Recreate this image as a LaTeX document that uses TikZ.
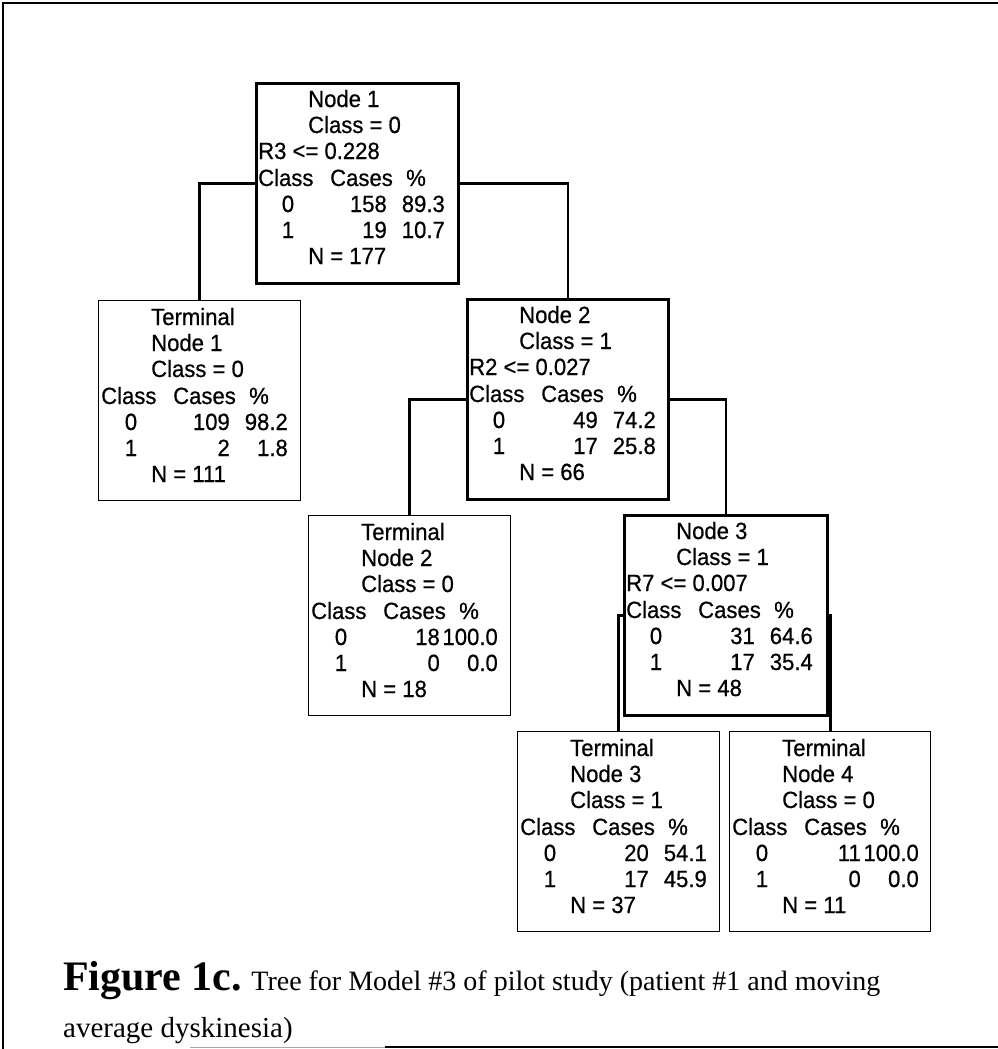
\documentclass[tikz,border=0pt]{standalone}
\usepackage{fontspec}
\setmainfont{Liberation Serif}
\newfontfamily\arialf[FakeStretch=0.94,FakeBold=0.6]{Liberation Sans}
\usetikzlibrary{calc}
\tikzset{
  splitbox/.style={draw, line width=2.8pt, anchor=north west, inner sep=0pt, minimum width=#1, minimum height=200pt},
  termbox/.style={draw, line width=1.4pt, anchor=north west, inner sep=0pt, minimum width=#1, minimum height=200pt},
  txt/.style={inner sep=0pt, font=\arialf\fontsize{23.5}{25}\selectfont},
  conn/.style={line width=2.8pt, line cap=rect},
  frame/.style={line width=2pt},
  captxt/.style={anchor=base west, inner sep=0pt, font=\fontsize{28}{30}\selectfont},
}
\newcommand\tabrows[6]{%
  \node[txt,anchor=base west] (#1-h1) at ($(#1.north west)+(3,104)$) {Class};
  \node[txt,anchor=base west] (#1-h2) at ($(#1.north west)+(75,104)$) {Cases};
  \node[txt,anchor=base west] (#1-h3) at ($(#1.north west)+(151,104)$) {\%};
  \node[txt,anchor=base] (#1-a1) at ($(#1.north west)+(33,130)$) {0};
  \node[txt,anchor=base east] (#1-a2) at ($(#1.north west)+(132,130)$) {#2};
  \node[txt,anchor=base east] (#1-a3) at ($(#1.north west)+(190,130)$) {#3};
  \node[txt,anchor=base] (#1-b1) at ($(#1.north west)+(33,156)$) {1};
  \node[txt,anchor=base east] (#1-b2) at ($(#1.north west)+(132,156)$) {#4};
  \node[txt,anchor=base east] (#1-b3) at ($(#1.north west)+(190,156)$) {#5};
  \node[txt,anchor=base west] (#1-n) at ($(#1.north west)+(53,182)$) {N = #6};
}
\newcommand\splittext[4]{% node, title, class, rule
  \node[txt,anchor=base west] (#1-t1) at ($(#1.north west)+(53,25)$) {#2};
  \node[txt,anchor=base west] (#1-t2) at ($(#1.north west)+(53,51)$) {Class = #3};
  \node[txt,anchor=base west] (#1-t3) at ($(#1.north west)+(3,77)$) {#4};
}
\newcommand\termtext[3]{% node, title, class
  \node[txt,anchor=base west] (#1-t1) at ($(#1.north west)+(53,25)$) {Terminal};
  \node[txt,anchor=base west] (#1-t2) at ($(#1.north west)+(53,51)$) {#2};
  \node[txt,anchor=base west] (#1-t3) at ($(#1.north west)+(53,77)$) {Class = #3};
}
\begin{document}
\begin{tikzpicture}[x=1pt,y=-1pt]
\useasboundingbox (0,0) rectangle (998,1049);
% frame
\coordinate (ftr) at (998,3);
\coordinate (ftl) at (3,3);
\coordinate (fbl) at (3,1049);
\coordinate (fb1) at (190,1047);
\coordinate (fb2) at (385,1047);
\coordinate (fbr) at (998,1047);
\draw[frame] (ftr) -- (ftl) -- (fbl);
\draw[line width=1pt, gray!70] (fb1) -- (fb2);
\draw[frame] (fb2) -- (fbr);
% boxes
\node[splitbox=202pt] (n1) at (255,82) {};
\node[termbox=202pt] (t1) at (98,300) {};
\node[splitbox=201pt] (n2) at (466,298) {};
\node[termbox=202pt] (t2) at (308,515) {};
\node[splitbox=203pt] (n3) at (623,514) {};
\node[termbox=202pt] (t3) at (517,731) {};
\node[termbox=201pt] (t4) at (729,731) {};
% connectors
\draw[conn] (n1.west) -| (t1.north);
\draw[conn] (n1.east) -| (n2.north);
\draw[conn] (n2.west) -| (t2.north);
\draw[conn] (n2.east) -| (n3.north);
\draw[conn] (n3.west) -| (t3.north);
\draw[conn] (n3.east) -| (t4.north);
% texts
\splittext{n1}{Node 1}{0}{R3 <= 0.228}
\tabrows{n1}{158}{89.3}{19}{10.7}{177}
\termtext{t1}{Node 1}{0}
\tabrows{t1}{109}{98.2}{2}{1.8}{111}
\splittext{n2}{Node 2}{1}{R2 <= 0.027}
\tabrows{n2}{49}{74.2}{17}{25.8}{66}
\termtext{t2}{Node 2}{0}
\tabrows{t2}{18}{100.0}{0}{0.0}{18}
\splittext{n3}{Node 3}{1}{R7 <= 0.007}
\tabrows{n3}{31}{64.6}{17}{35.4}{48}
\termtext{t3}{Node 3}{1}
\tabrows{t3}{20}{54.1}{17}{45.9}{37}
\termtext{t4}{Node 4}{0}
\tabrows{t4}{11}{100.0}{0}{0.0}{11}
% caption
\node[captxt] (cap1) at (63,990)
  {{\fontsize{42}{44}\selectfont\bfseries Figure 1c.} Tree for Model \#3 of pilot study (patient \#1 and moving};
\node[captxt, font=\fontsize{29}{31}\selectfont] (cap2) at (63,1037) {average dyskinesia)};
\end{tikzpicture}
\end{document}
